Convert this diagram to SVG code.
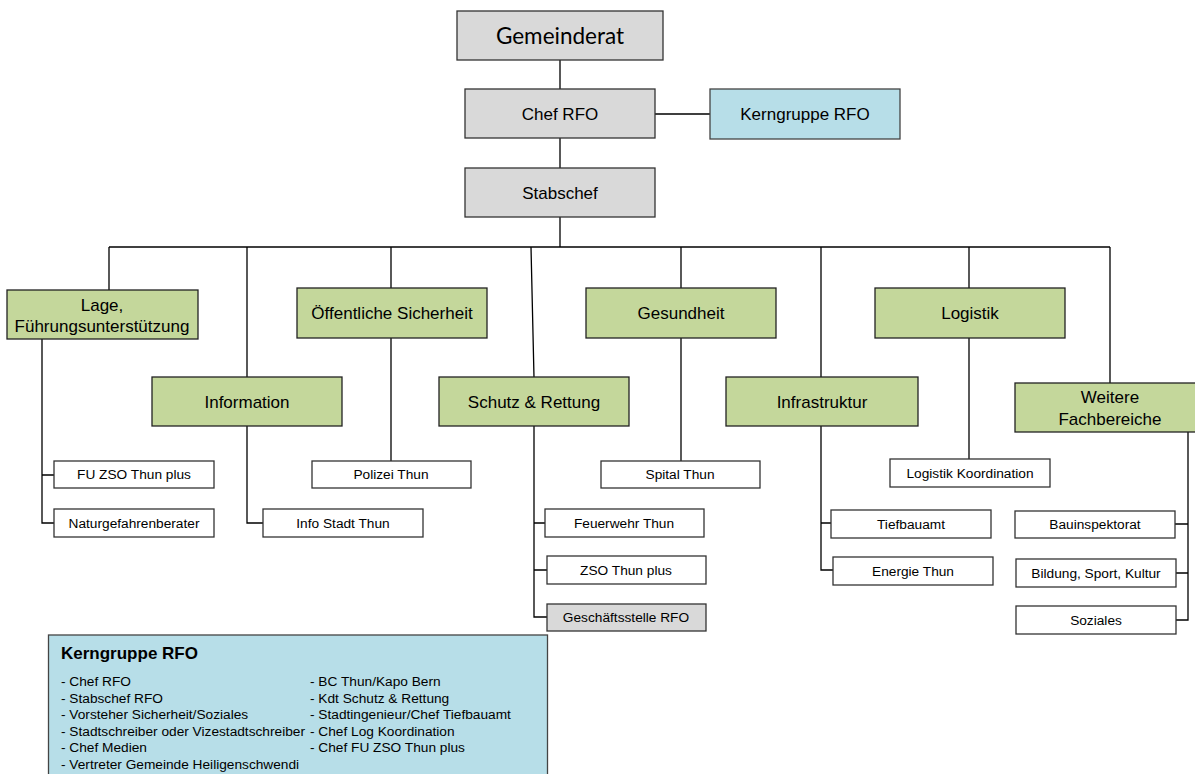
<svg xmlns="http://www.w3.org/2000/svg" width="1195" height="774" viewBox="0 0 1195 774">
<style>
.grey{fill:#d9d9d9;stroke:#333;stroke-width:1.3}
.green{fill:#c4d79b;stroke:#222;stroke-width:1.3}
.blue{fill:#b7dee8;stroke:#444;stroke-width:1.3}
.white{fill:#fff;stroke:#333;stroke-width:1.3}
.t{font-family:"Liberation Sans",Arial,sans-serif;fill:#000;text-anchor:middle}
.big{font-size:17px}
.sm{font-size:13.7px}
.leg{font-family:"Liberation Sans",Arial,sans-serif;font-size:13.7px;fill:#000}
#connectors path{fill:none;stroke:#000;stroke-width:1.3}
</style>
<rect width="1195" height="774" fill="#fff"/>
<g id="connectors">
<path d="M560 60V89M655 114H710M560 138V168M560 217V247"/>
<path d="M109 247H1110"/>
<path d="M109 247V290M247 247V377M391 247V288M531 247L534 377M681 247V288M821 247V377M969 247V288M1110 247V383"/>
<path d="M42 339V523H54M42 475H54"/>
<path d="M247 426V523H263"/>
<path d="M391 338V461"/>
<path d="M534 426V617H547M534 523H545M534 570H547"/>
<path d="M681 338V461"/>
<path d="M821 426V570H833M821 523H831"/>
<path d="M969 338V459"/>
<path d="M1188 432V620H1176M1188 524H1175M1188 573H1176"/>
</g>
<g id="gemeinderat"><rect class="grey" x="457" y="11" width="206" height="49"/><text x="560" y="44" style="font-family:Lato,'Open Sans',sans-serif;font-size:22.5px;text-anchor:middle">Gemeinderat</text></g>
<g id="chef-rfo"><rect class="grey" x="465" y="89" width="190" height="49"/><text class="t big" x="560" y="120">Chef RFO</text></g>
<g id="kerngruppe-rfo"><rect class="blue" x="710" y="89" width="190" height="50"/><text class="t big" x="805" y="120">Kerngruppe RFO</text></g>
<g id="stabschef"><rect class="grey" x="465" y="168" width="190" height="49"/><text class="t big" x="560" y="199">Stabschef</text></g>
<g id="lage"><rect class="green" x="7" y="290" width="191" height="49"/><text class="t big" x="102" y="311">Lage,</text><text class="t big" x="102" y="332">Führungsunterstützung</text></g>
<g id="oeffentliche-sicherheit"><rect class="green" x="297" y="288" width="190" height="50"/><text class="t big" x="392" y="319">Öffentliche Sicherheit</text></g>
<g id="gesundheit"><rect class="green" x="586" y="288" width="190" height="50"/><text class="t big" x="681" y="319">Gesundheit</text></g>
<g id="logistik"><rect class="green" x="875" y="288" width="190" height="50"/><text class="t big" x="970" y="319">Logistik</text></g>
<g id="information"><rect class="green" x="152" y="377" width="190" height="49"/><text class="t big" x="247" y="408">Information</text></g>
<g id="schutz-rettung"><rect class="green" x="439" y="377" width="190" height="49"/><text class="t big" x="534" y="408">Schutz &amp; Rettung</text></g>
<g id="infrastruktur"><rect class="green" x="726" y="377" width="192" height="49"/><text class="t big" x="822" y="408">Infrastruktur</text></g>
<g id="weitere-fachbereiche"><rect class="green" x="1015" y="383" width="190" height="49"/><text class="t big" x="1110" y="403">Weitere</text><text class="t big" x="1110" y="425">Fachbereiche</text></g>
<g id="fu-zso"><rect class="white" x="54" y="461" width="160" height="27"/><text class="t sm" x="134" y="479">FU ZSO Thun plus</text></g>
<g id="naturgefahrenberater"><rect class="white" x="54" y="509" width="160" height="28"/><text class="t sm" x="134" y="528">Naturgefahrenberater</text></g>
<g id="polizei-thun"><rect class="white" x="312" y="461" width="159" height="27"/><text class="t sm" x="391" y="479">Polizei Thun</text></g>
<g id="info-stadt-thun"><rect class="white" x="263" y="509" width="160" height="28"/><text class="t sm" x="343" y="528">Info Stadt Thun</text></g>
<g id="spital-thun"><rect class="white" x="601" y="461" width="159" height="27"/><text class="t sm" x="680" y="479">Spital Thun</text></g>
<g id="logistik-koordination"><rect class="white" x="890" y="459" width="160" height="28"/><text class="t sm" x="970" y="478">Logistik Koordination</text></g>
<g id="feuerwehr-thun"><rect class="white" x="545" y="509" width="159" height="28"/><text class="t sm" x="624" y="528">Feuerwehr Thun</text></g>
<g id="zso-thun-plus"><rect class="white" x="547" y="556" width="159" height="28"/><text class="t sm" x="626" y="575">ZSO Thun plus</text></g>
<g id="geschaeftsstelle-rfo"><rect class="grey" x="547" y="604" width="159" height="27"/><text class="t sm" x="626" y="622">Geschäftsstelle RFO</text></g>
<g id="tiefbauamt"><rect class="white" x="831" y="510" width="160" height="28"/><text class="t sm" x="911" y="529">Tiefbauamt</text></g>
<g id="energie-thun"><rect class="white" x="833" y="557" width="160" height="28"/><text class="t sm" x="913" y="576">Energie Thun</text></g>
<g id="bauinspektorat"><rect class="white" x="1015" y="511" width="160" height="27"/><text class="t sm" x="1095" y="529">Bauinspektorat</text></g>
<g id="bildung-sport-kultur"><rect class="white" x="1016" y="559" width="160" height="28"/><text class="t sm" x="1096" y="578">Bildung, Sport, Kultur</text></g>
<g id="soziales"><rect class="white" x="1016" y="606" width="160" height="28"/><text class="t sm" x="1096" y="625">Soziales</text></g>
<g id="kerngruppe-legende">
<rect class="blue" x="48.5" y="635" width="499" height="150"/>
<text x="61" y="659" style="font-family:'Liberation Sans',Arial,sans-serif;font-size:17px;font-weight:bold">Kerngruppe RFO</text>
<text class="leg" x="61" y="686">- Chef RFO</text>
<text class="leg" x="61" y="702.5">- Stabschef RFO</text>
<text class="leg" x="61" y="719">- Vorsteher Sicherheit/Soziales</text>
<text class="leg" x="61" y="735.5">- Stadtschreiber oder Vizestadtschreiber</text>
<text class="leg" x="61" y="752">- Chef Medien</text>
<text class="leg" x="61" y="768.5">- Vertreter Gemeinde Heiligenschwendi</text>
<text class="leg" x="310" y="686">- BC Thun/Kapo Bern</text>
<text class="leg" x="310" y="702.5">- Kdt Schutz &amp; Rettung</text>
<text class="leg" x="310" y="719">- Stadtingenieur/Chef Tiefbauamt</text>
<text class="leg" x="310" y="735.5">- Chef Log Koordination</text>
<text class="leg" x="310" y="752">- Chef FU ZSO Thun plus</text>
</g>
</svg>
